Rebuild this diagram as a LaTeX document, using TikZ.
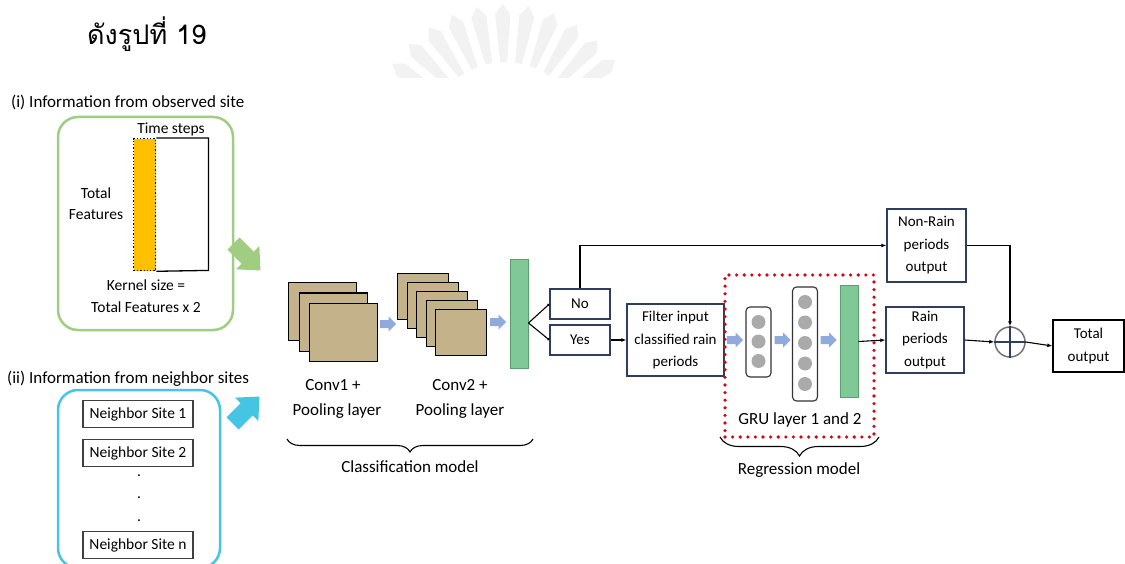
\documentclass[tikz,border=0pt]{standalone}
\usepackage{fontspec}
\setmainfont{Carlito}
\newfontfamily\thaifont[Script=Thai]{Loma}
\usetikzlibrary{decorations.pathreplacing,arrows.meta,calc}

\definecolor{convtan}{RGB}{196,178,138}
\definecolor{densegreen}{RGB}{128,200,152}
\definecolor{densegreenline}{RGB}{90,160,110}
\definecolor{framegreen}{RGB}{160,205,130}
\definecolor{framecyan}{RGB}{70,196,228}
\definecolor{kernelorange}{RGB}{255,192,0}
\definecolor{flowblue}{RGB}{143,170,220}
\definecolor{boxline}{RGB}{47,62,94}
\definecolor{unitgray}{RGB}{170,170,170}
\definecolor{gruframe}{RGB}{205,10,20}

\tikzset{
  lbl/.style={inner sep=0pt, font=\fontsize{17}{20}\selectfont},
  small/.style={inner sep=0pt, font=\fontsize{15.5}{18}\selectfont},
  flowbox/.style={draw=boxline, line width=1.3pt, fill=white, align=center,
    font=\fontsize{15}{22.5}\selectfont, inner sep=0pt},
  sitebox/.style={draw=black!75, line width=1.1pt, minimum width=110, minimum height=27,
    inner sep=0pt, font=\fontsize{15.5}{18}\selectfont},
  fmap/.style={draw=black, line width=1.3pt, fill=convtan, anchor=north west, inner sep=0pt},
  densebar/.style={draw=densegreenline, line width=1pt, fill=densegreen, inner sep=0pt, minimum width=18},
  unitcol/.style={draw=black!80, line width=1.1pt, rounded corners=4pt, fill=white,
    minimum width=25, inner sep=0pt},
  unit/.style={circle, fill=unitgray, minimum size=14, inner sep=0pt},
  conn/.style={line width=1.1pt, -{Latex[length=5pt,width=4pt]}},
  grpbrace/.style={decorate, line width=1.1pt},
  % small chunky arrow between layers
  flowarrow/.pic={
    \fill[flowblue] (-8,-4) -- (0.5,-4) -- (0.5,-7.5) -- (8,0) -- (0.5,7.5) -- (0.5,4) -- (-8,4) -- cycle;
  },
  % large block arrow pointing at the network
  bigarrow/.pic={
    \fill (-19,-8.5) -- (1,-8.5) -- (1,-16.5) -- (19,0) -- (1,16.5) -- (1,8.5) -- (-19,8.5) -- cycle;
  },
}

\begin{document}
\begin{tikzpicture}[x=1pt,y=-1pt]
\useasboundingbox (0,0) rectangle (1125,564);

% faint emblem behind the heading
\begin{scope}
  \clip (380,0) rectangle (640,78);
  \foreach \a in {192,203,...,350} {
    \fill[black!5] ($(505,140)+(\a-2.5:78)$) -- ($(505,140)+(\a-3.5:126)$) -- ($(505,140)+(\a:136)$)
      -- ($(505,140)+(\a+3.5:126)$) -- ($(505,140)+(\a+2.5:78)$) -- cycle;
  }
\end{scope}

% heading
\node[anchor=west, inner sep=0pt, font=\thaifont\fontsize{27}{30}\selectfont] (title) at (87,34) {ดังรูปที่ 19};

% (i) observed site
\node[lbl, anchor=west] (obslbl) at (11,102) {(i) Information from observed site};
\node[draw=framegreen, line width=2.5pt, rounded corners=20pt, minimum width=175, minimum height=213, inner sep=0pt] (obsbox) at (145.5,223.5) {};
\node[fill=white, minimum width=75, minimum height=132, anchor=north west, inner sep=0pt] (grid) at (133,138) {};
\node[fill=kernelorange, draw=black, dotted, line width=1.3pt, minimum width=22, minimum height=132, anchor=north west, inner sep=0pt] (kernel) at (133,138) {};
\draw[line width=1.3pt] (kernel.north east) -- (grid.north east) -- (grid.south east) -- (kernel.south east);
\node[small] (tsteps) at (171,129) {Time steps};
\node[small] (tf1) at (96,193) {Total};
\node[small] (tf2) at (96,215) {Features};
\node[small] (ks1) at (146,285) {Kernel size =};
\node[small] (ks2) at (146,307) {Total Features x 2};
\pic[fill=framegreen, rotate=-45] at (247,257) {bigarrow};

% (ii) neighbor sites
\node[lbl, anchor=west] (nbrlbl) at (7,379) {(ii) Information from neighbor sites};
\node[draw=framecyan, line width=2.5pt, rounded corners=20pt, minimum width=162, minimum height=178, inner sep=0pt] (nbrbox) at (139,479) {};
\node[sitebox] (site1) at (138,414) {Neighbor Site 1};
\node[sitebox] (site2) at (138,453) {Neighbor Site 2};
\node[small] (dot1) at (139,476) {.};
\node[small] (dot2) at (139,498) {.};
\node[small] (dot3) at (139,521) {.};
\node[sitebox] (siten) at (138,545) {Neighbor Site n};
\pic[fill=framecyan, rotate=45] at (246,410) {bigarrow};

% convolution blocks
\foreach \i in {0,1,2} {
  \node[fmap, minimum width=68, minimum height=58] (ca\i) at (288+10.5*\i,282+10.5*\i) {};
}
\foreach \i in {0,...,4} {
  \node[fmap, minimum width=51, minimum height=46] (cb\i) at (397+9.5*\i,273+9*\i) {};
}
\pic at (388,324) {flowarrow};
\pic at (498,322) {flowarrow};
\node[densebar, minimum height=108] (bar1) at (519,314) {};
\node[lbl] (c1a) at (333,385) {Conv1 +};
\node[lbl] (c1b) at (337,411) {Pooling layer};
\node[lbl] (c2a) at (460,385) {Conv2 +};
\node[lbl] (c2b) at (460,411) {Pooling layer};
\draw[grpbrace, decoration={brace, mirror, amplitude=13pt}] (287,439) -- (533,439);
\node[lbl] (clsmodel) at (410,467) {Classification model};

% branch on the class
\node[flowbox, minimum width=60, minimum height=30] (no) at (580,304) {No};
\node[flowbox, minimum width=60, minimum height=30] (yes) at (580,340) {Yes};
\coordinate (fork) at ($(bar1.east)+(0,9)$);
\draw[conn, -{Circle[length=2.5pt]}] (fork) -- (no.west);
\draw[conn, -{Circle[length=2.5pt]}] (fork) -- (yes.west);
\node[flowbox, minimum width=97, minimum height=72] (filter) at (675.5,340) {Filter input\\classified rain\\periods};
\draw[conn] (yes.east) -- (filter.west);

% GRU block
\node[draw=gruframe, line width=3.6pt, dash pattern=on 0pt off 7.6pt, line cap=round, minimum width=149, minimum height=162, inner sep=0pt] (grubox) at (799.5,356) {};
\node[unitcol, minimum height=70] (gru1) at (758.5,342) {};
\foreach \j/\yy in {0/322,1/341.5,2/361} { \node[unit] (ga\j) at (758.5,\yy) {}; }
\node[unitcol, minimum height=114] (gru2) at (805,344) {};
\foreach \j/\yy in {0/302,1/322.5,2/343,3/363.5,4/384} { \node[unit] (gb\j) at (805,\yy) {}; }
\node[densebar, minimum height=111] (bar2) at (849,341.5) {};
\pic at (735,340) {flowarrow};
\pic at (782.5,340) {flowarrow};
\pic at (828.5,340) {flowarrow};
\node[lbl] (grulbl) at (800,420) {GRU layer 1 and 2};
\draw[grpbrace, decoration={brace, mirror, amplitude=19pt}] (720,437) -- (879,437);
\node[lbl] (regmodel) at (799,470) {Regression model};

% outputs
\node[flowbox, minimum width=79, minimum height=73] (nonrain) at (926.5,245.5) {Non-Rain\\periods\\output};
\node[flowbox, minimum width=78, minimum height=66] (rain) at (925,340) {Rain\\periods\\output};
\draw[conn] (no.north) |- (nonrain.west);
\draw[conn] (bar2.east) -- (rain.west);
\node[circle, draw=black!55, line width=1.5pt, minimum size=30, inner sep=0pt] (plus) at (1010,342) {};
\draw[boxline, line width=1.1pt] (plus.north) -- (plus.south) (plus.west) -- (plus.east);
\draw[conn] (nonrain.east) -| (plus.north);
\draw[conn] (rain.east) -- (plus.west);
\node[flowbox, draw=black, minimum width=71, minimum height=52] (total) at (1088.5,346) {Total\\output};
\draw[conn] (plus.east) -- (total.west);
\end{tikzpicture}
\end{document}
